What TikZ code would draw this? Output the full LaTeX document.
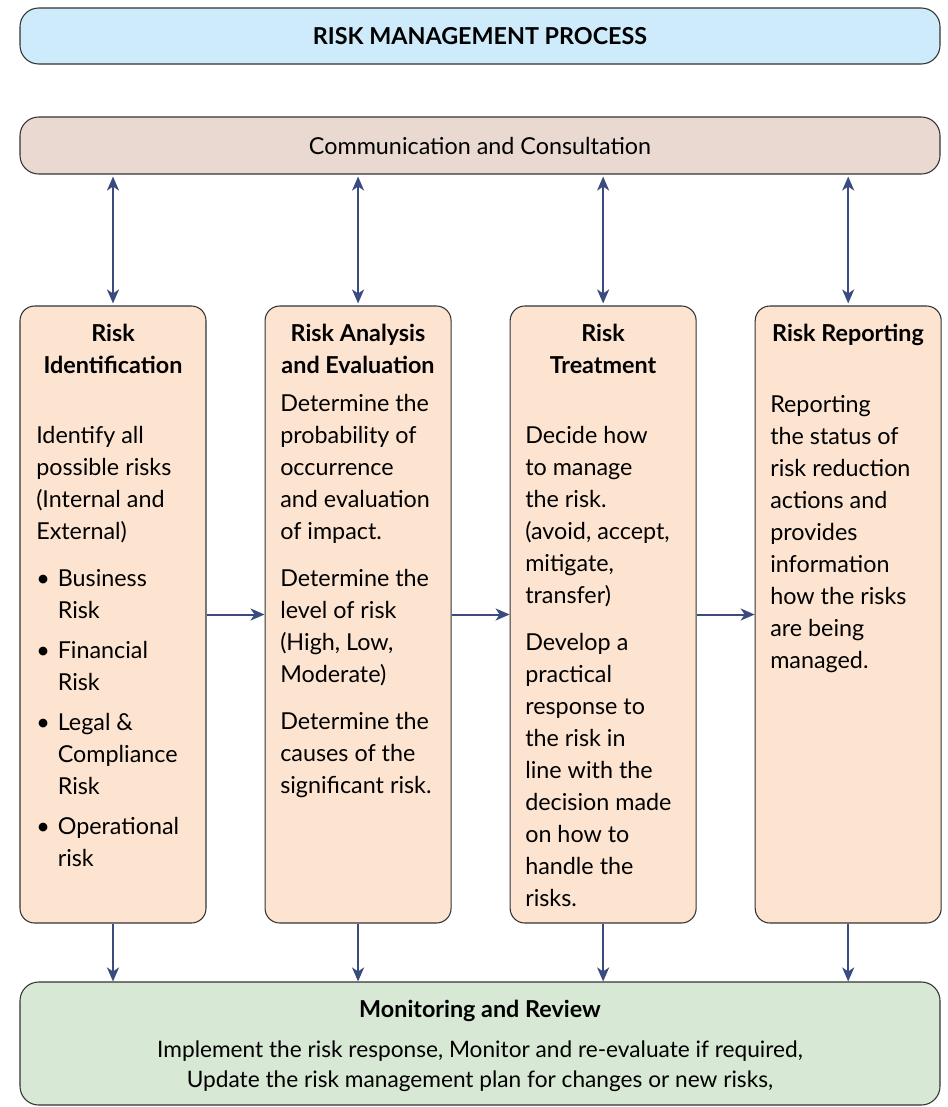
\documentclass[tikz,border=0pt]{standalone}
\usepackage{fontspec}
\setmainfont{Lato}
\usetikzlibrary{positioning,arrows.meta}
\definecolor{headblue}{HTML}{CDEBFA}
\definecolor{consultrose}{HTML}{EAD9D1}
\definecolor{stepfill}{HTML}{FDE4D1}
\definecolor{reviewgreen}{HTML}{D7E8D4}
\definecolor{arrowblue}{HTML}{3A4B7F}
\tikzset{
panel/.style={
    draw=black!80,
    line width=0.8pt,
    rounded corners=14pt,
    inner sep=0pt
},
stepbox/.style={
    panel,
    rounded corners=11pt,
    fill=stepfill,
    minimum width=139.5pt,
    minimum height=462.75pt
},
headtxt/.style={
    font=\fontsize{17.5}{24}\selectfont\bfseries,
    align=center,
    anchor=base,
    inner sep=0pt
},
bodytxt/.style={
    font=\fontsize{17.5}{24}\selectfont,
    align=left,
    anchor=base west,
    inner sep=0pt
},
flow/.style={
    ->,
    draw=arrowblue,
    line width=1.5pt
},
both/.style={
    <->,
    draw=arrowblue,
    line width=1.5pt,
    shorten <=1.5pt,
    shorten >=1.5pt
}}
\newcommand{\paragap}{\\[11pt]}

\begin{document}
\begin{tikzpicture}[x=0.75pt, y=-0.75pt, >={Stealth[length=10.5pt,width=9pt,inset=3pt]}]
\useasboundingbox (0,0) rectangle (948,1107);

% top bands
\node[panel, fill=headblue, minimum width=690pt, minimum height=42pt, font=\fontsize{17.5}{24}\selectfont\bfseries]    (title)    at (480,36)    {RISK MANAGEMENT PROCESS};
\node[panel, fill=consultrose, minimum width=690pt, minimum height=42.75pt, font=\fontsize{17.5}{24}\selectfont]    (comm)    at (480,145.5)    {Communication and Consultation};

% process steps
\node[stepbox]    (ident)    at (113,614.5)    {};
\node[stepbox]    (analysis)    [right=43.5pt of ident]    {};
\node[stepbox]    (treat)    [right=43.5pt of analysis]    {};
\node[stepbox]    (report)    [right=43.5pt of treat]    {};

\node[panel, fill=reviewgreen, minimum width=690pt, minimum height=92.25pt]    (review)    at (480,1043.5)    {};

% step texts (base = last line)
\node[headtxt]    (identhead)    at (113,373)    {Risk\\Identification};
\node[bodytxt]    (identtxt)    at (36,539)    {Identify all\\possible risks\\(Internal and\\External)};
\node[bodytxt]    (identlist)    at (36,586)    {\begin{tabular}[t]{@{}l@{\hspace{6pt}}l@{}}
\textbullet & Business\\ & Risk\\[6pt]
\textbullet & Financial\\ & Risk\\[6pt]
\textbullet & Legal \&\\ & Compliance\\ & Risk\\[6pt]
\textbullet & Operational\\ & risk
\end{tabular}};

\node[headtxt]    (analysishead)    at (358,373)    {Risk Analysis\\and Evaluation};
\node[bodytxt]    (analysistxt)    at (280,793)    {Determine the\\probability of\\occurrence\\and evaluation\\of impact.\paragap
Determine the\\level of risk\\(High, Low,\\Moderate)\paragap
Determine the\\causes of the\\significant risk.};

\node[headtxt]    (treathead)    at (603,373)    {Risk\\Treatment};
\node[bodytxt]    (treattxt)    at (525,906)    {Decide how\\to manage\\the risk.\\(avoid, accept,\\mitigate,\\transfer)\paragap
Develop a\\practical\\response to\\the risk in\\line with the\\decision made\\on how to\\handle the\\risks.};

\node[headtxt]    (reporthead)    at (848,341)    {Risk Reporting};
\node[bodytxt]    (reporttxt)    at (770,668)    {Reporting\\the status of\\risk reduction\\actions and\\provides\\information\\how the risks\\are being\\managed.};

% review text
\node[headtxt]    (reviewhead)    at (480,1017)    {Monitoring and Review};
\node[align=center, anchor=base, inner sep=0pt, font=\fontsize{17}{22.5}\selectfont]    (reviewtxt)    at (480,1087)    {Implement the risk response, Monitor and re-evaluate if required,\\Update the risk management plan for changes or new risks,};

% connectors
\path    (ident.north)    edge[both]    (ident.north |- comm.south);
\path    (analysis.north)    edge[both]    (analysis.north |- comm.south);
\path    (treat.north)    edge[both]    (treat.north |- comm.south);
\path    (report.north)    edge[both]    (report.north |- comm.south);

\path    (ident.east)    edge[flow]    (analysis.west);
\path    (analysis.east)    edge[flow]    (treat.west);
\path    (treat.east)    edge[flow]    (report.west);

\path    (ident.south)    edge[flow]    (ident.south |- review.north);
\path    (analysis.south)    edge[flow]    (analysis.south |- review.north);
\path    (treat.south)    edge[flow]    (treat.south |- review.north);
\path    (report.south)    edge[flow]    (report.south |- review.north);
\end{tikzpicture}
\end{document}
